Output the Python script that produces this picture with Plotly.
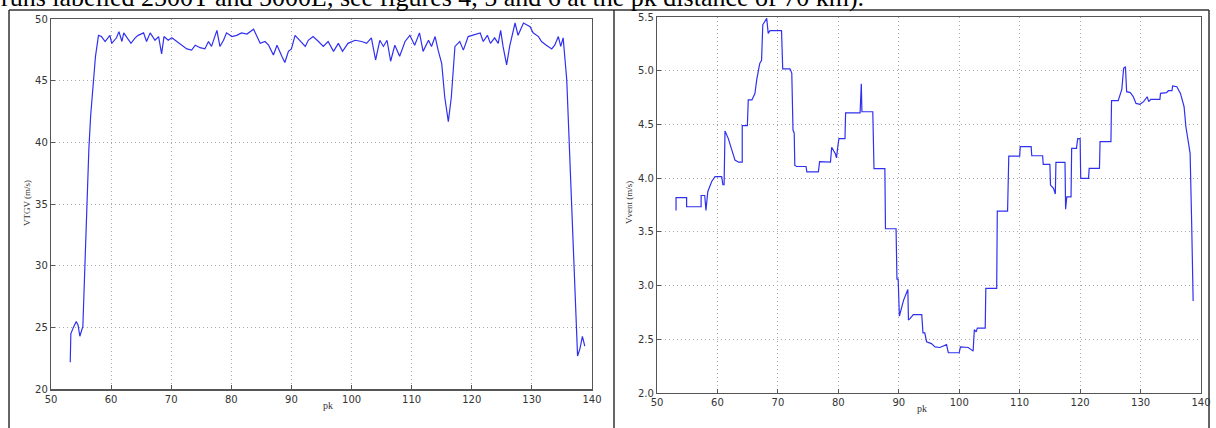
import plotly.graph_objects as go

W, H = 1216, 428

# ---------------- data ----------------
pk_tgv = [53.2, 53.3, 53.7, 54.2, 54.5, 54.8, 55.3, 55.7, 56.0, 56.3, 56.6, 57.0, 57.4, 57.9,
          58.4, 59.0, 59.8, 60.1, 60.9, 61.3, 61.8, 62.1, 62.7, 63.3, 64.0, 64.5, 65.4, 65.9,
          66.5, 67.3, 67.9, 68.4, 68.8, 69.5, 70.1, 70.9, 71.7, 72.6, 73.4, 74.0, 74.8, 75.6,
          76.2, 76.7, 77.6, 78.1, 78.7, 79.2, 80.1, 80.9, 81.7, 82.6, 83.7, 84.2, 84.8, 85.6,
          86.2, 87.0, 87.6, 88.4, 88.9, 89.5, 90.0, 90.6, 91.4, 92.3, 92.8, 93.6, 94.5, 95.3,
          96.1, 97.0, 97.8, 98.5, 99.4, 100.6, 101.7, 102.5, 103.3, 104.0, 104.7, 105.3, 105.9,
          106.5, 107.2, 108.0, 108.9, 109.7, 110.5, 111.3, 111.9, 112.8, 113.3, 113.9, 114.4,
          115.0, 115.5, 116.1, 116.6, 117.2, 118.0, 118.6, 119.4, 120.2, 121.4, 121.9, 122.6,
          123.1, 123.8, 124.4, 124.8, 125.2, 125.8, 126.3, 127.2, 127.7, 128.6, 129.7, 130.2,
          131.1, 131.6, 132.4, 133.3, 133.8, 134.4, 134.8, 135.2, 135.8, 136.3, 136.8, 137.2,
          137.6, 138.0, 138.4, 138.8]
v_tgv = [22.2, 24.5, 25.0, 25.5, 25.2, 24.3, 25.1, 31.0, 35.5, 39.5, 42.2, 45.0, 47.0, 48.7,
         48.6, 48.2, 48.7, 48.05, 48.5, 49.0, 48.2, 48.9, 48.5, 48.05, 48.5, 48.7, 48.9, 48.2,
         48.9, 48.3, 48.6, 47.2, 48.6, 48.3, 48.5, 48.2, 47.9, 47.6, 47.5, 47.9, 47.7, 47.6,
         48.2, 47.8, 49.1, 47.8, 48.3, 48.9, 48.6, 48.7, 48.9, 48.8, 49.2, 48.7, 48.05, 48.2,
         47.9, 47.1, 47.9, 47.0, 46.5, 47.4, 47.6, 48.7, 48.3, 47.8, 48.3, 48.6, 48.2, 47.8,
         48.2, 47.4, 48.05, 47.4, 48.05, 48.3, 48.2, 48.05, 48.5, 46.7, 48.3, 47.8, 48.3,
         46.6, 47.9, 47.0, 48.2, 48.7, 47.9, 48.9, 47.4, 48.3, 47.8, 48.6, 47.5,
         46.4, 43.7, 41.7, 43.7, 47.8, 48.2, 47.5, 48.6, 48.7, 48.9, 48.2, 48.7,
         48.05, 48.5, 48.05, 49.1, 47.8, 46.3, 47.8, 49.7, 48.7, 49.7, 49.4, 48.9,
         48.6, 48.2, 47.9, 47.6, 47.9, 48.6, 47.8, 48.5, 45.1, 39.1, 33.7, 28.0,
         22.7, 23.3, 24.3, 23.5]

pk_vent = [53.15, 53.15, 54.9, 54.9, 57.3, 57.3, 57.9, 58.1, 58.4, 59.05, 59.6, 60.7, 60.9, 61.1,
           61.25, 61.8, 62.4, 62.9, 63.5, 64.1, 64.1, 64.95, 65.1, 65.7, 66.2, 66.5, 67.0, 67.3,
           67.5, 67.9, 68.15, 68.4, 68.7, 70.6, 70.8, 72.0, 72.3, 72.5, 72.7, 72.8, 73.1, 74.65,
           74.8, 76.7, 76.9, 78.7, 78.9, 79.5, 79.7, 79.9, 80.1, 81.1, 81.2, 83.6, 83.8, 83.9,
           85.7, 85.9, 87.7, 87.8, 89.55, 89.7, 89.9, 90.1, 90.8, 91.5, 91.6, 91.9, 92.4, 93.8,
           94.0, 94.3, 94.6, 95.4, 96.0, 96.8, 97.9, 98.2, 100.0, 100.2, 101.5, 102.3, 102.5,
           102.8, 103.0, 104.3, 104.4, 106.2, 106.3, 108.0, 108.2, 110.0, 110.1, 111.9, 112.0,
           113.8, 113.9, 115.0, 115.1, 115.6, 115.9, 116.0, 117.5, 117.6, 117.8, 118.5, 118.6,
           119.4, 119.6, 120.0, 120.1, 121.4, 121.5, 123.2, 123.3, 125.1, 125.2, 126.3, 126.9,
           127.2, 127.5, 127.7, 128.3, 128.8, 129.25, 129.9, 130.5, 131.1, 131.35, 131.7, 133.2,
           133.3, 134.3, 134.6, 135.2, 135.3, 136.0, 136.6, 137.2, 137.5, 137.9, 138.2, 138.45,
           138.7]
v_vent = [3.70, 3.82, 3.82, 3.735, 3.735, 3.84, 3.84, 3.70, 3.875, 3.97, 4.015, 4.015, 3.94, 3.94,
          4.44, 4.37, 4.26, 4.17, 4.15, 4.15, 4.49, 4.49, 4.73, 4.73, 4.79, 4.92, 5.07, 5.10,
          5.43, 5.475, 5.49, 5.35, 5.375, 5.375, 5.02, 5.02, 4.98, 4.45, 4.42, 4.12, 4.11, 4.11,
          4.06, 4.06, 4.155, 4.15, 4.29, 4.23, 4.19, 4.29, 4.37, 4.37, 4.61, 4.61, 4.88, 4.62,
          4.62, 4.09, 4.09, 3.53, 3.53, 3.06, 3.06, 2.716, 2.865, 2.965, 2.68, 2.695, 2.73, 2.73,
          2.56, 2.56, 2.478, 2.46, 2.43, 2.424, 2.45, 2.375, 2.375, 2.43, 2.424, 2.39, 2.59,
          2.57, 2.605, 2.605, 2.974, 2.974, 3.694, 3.694, 4.207, 4.207, 4.295, 4.295, 4.21,
          4.21, 4.13, 4.13, 3.937, 3.906, 3.853, 4.148, 4.148, 3.713, 3.828, 3.828, 4.279,
          4.279, 4.369, 4.369, 4.0, 4.0, 4.092, 4.092, 4.341, 4.341, 4.723, 4.723, 4.829,
          5.024, 5.04, 4.807, 4.798, 4.76, 4.698, 4.69, 4.714, 4.76, 4.714, 4.736, 4.736,
          4.791, 4.798, 4.816, 4.816, 4.86, 4.853, 4.791, 4.667, 4.48, 4.356, 4.232, 3.6,
          2.856]

x_ticks = [50, 60, 70, 80, 90, 100, 110, 120, 130, 140]
y1_ticks = [20, 25, 30, 35, 40, 45, 50]
y2_ticks = [2.0, 2.5, 3.0, 3.5, 4.0, 4.5, 5.0, 5.5]
caption = "runs labelled 2500T and 5000L, see figures 4, 5 and 6 at the pk distance of 70 km)."

# ---------------- layout helpers ----------------
def px_x(p):
    return p / W

def px_y(p):
    return 1 - p / H

LINE = "#3030f0"
TICKFONT = dict(family="DejaVu Sans", size=10, color="#333333")
GRID = "#a8a8a8"

fig = go.Figure()
fig.add_trace(go.Scatter(x=pk_tgv, y=v_tgv, mode="lines", line=dict(color=LINE, width=1.2),
                         xaxis="x", yaxis="y", showlegend=False, hoverinfo="skip"))
fig.add_trace(go.Scatter(x=pk_vent, y=v_vent, mode="lines", line=dict(color=LINE, width=1.2),
                         xaxis="x2", yaxis="y2", showlegend=False, hoverinfo="skip"))

axis_common = dict(showline=True, linecolor="#555555", linewidth=1.2, mirror=True,
                   showgrid=True, gridcolor=GRID, griddash="1px,3px", gridwidth=1,
                   zeroline=False, ticks="inside", ticklen=4, tickcolor="#555555",
                   tickfont=TICKFONT, fixedrange=True, automargin=False)

fig.update_layout(
    width=W, height=H, margin=dict(l=0, r=0, t=0, b=0, autoexpand=False),
    paper_bgcolor="white", plot_bgcolor="white",
    xaxis=dict(domain=[px_x(51), px_x(592)], range=[50, 140], tickvals=x_ticks,
               anchor="y", **axis_common),
    yaxis=dict(domain=[px_y(389.3), px_y(19.3)], range=[20, 50], tickvals=y1_ticks,
               anchor="x", **axis_common),
    xaxis2=dict(domain=[px_x(657), px_x(1201)], range=[50, 140], tickvals=x_ticks,
                anchor="y2", **axis_common),
    yaxis2=dict(domain=[px_y(393), px_y(17.3)], range=[2.0, 5.5], tickvals=y2_ticks,
                tickformat=".1f", anchor="x2", **axis_common),
)

TITLEFONT = dict(family="Liberation Serif", size=9, color="#333333")
fig.add_annotation(x=px_x(20), y=px_y(203), xref="paper", yref="paper", text="VTGV (m/s)",
                   textangle=-90, showarrow=False, font=TITLEFONT)
fig.add_annotation(x=px_x(629), y=px_y(203), xref="paper", yref="paper", text="Vvent (m/s)",
                   textangle=-90, showarrow=False, font=TITLEFONT)
fig.add_annotation(x=px_x(321), y=px_y(413), xref="paper", yref="paper", text="pk",
                   showarrow=False, font=dict(family="Liberation Serif", size=10, color="#333333"))
fig.add_annotation(x=px_x(929), y=px_y(416), xref="paper", yref="paper", text="pk",
                   showarrow=False, font=dict(family="Liberation Serif", size=10, color="#333333"))

# cut-off caption line at top of the page (only its lower part is inside the picture)
fig.add_annotation(x=-0.001, y=px_y(-2), xref="paper", yref="paper", text=caption,
                   xanchor="left", yanchor="middle", showarrow=False,
                   font=dict(family="Liberation Serif", size=26, color="black"))

# panel frames
FRAME = dict(color="#333333", width=1.5)
for x0, x1 in [(9, 614), (614, 1209)]:
    fig.add_shape(type="line", xref="paper", yref="paper", x0=px_x(x0), x1=px_x(x1),
                  y0=px_y(10), y1=px_y(10), line=FRAME)
for xv in [9, 614, 1209]:
    fig.add_shape(type="line", xref="paper", yref="paper", x0=px_x(xv), x1=px_x(xv),
                  y0=px_y(10), y1=px_y(428), line=FRAME)

fig.write_html("out.html", config={"displayModeBar": False, "staticPlot": True},
               post_script="document.body.style.margin='0';")
